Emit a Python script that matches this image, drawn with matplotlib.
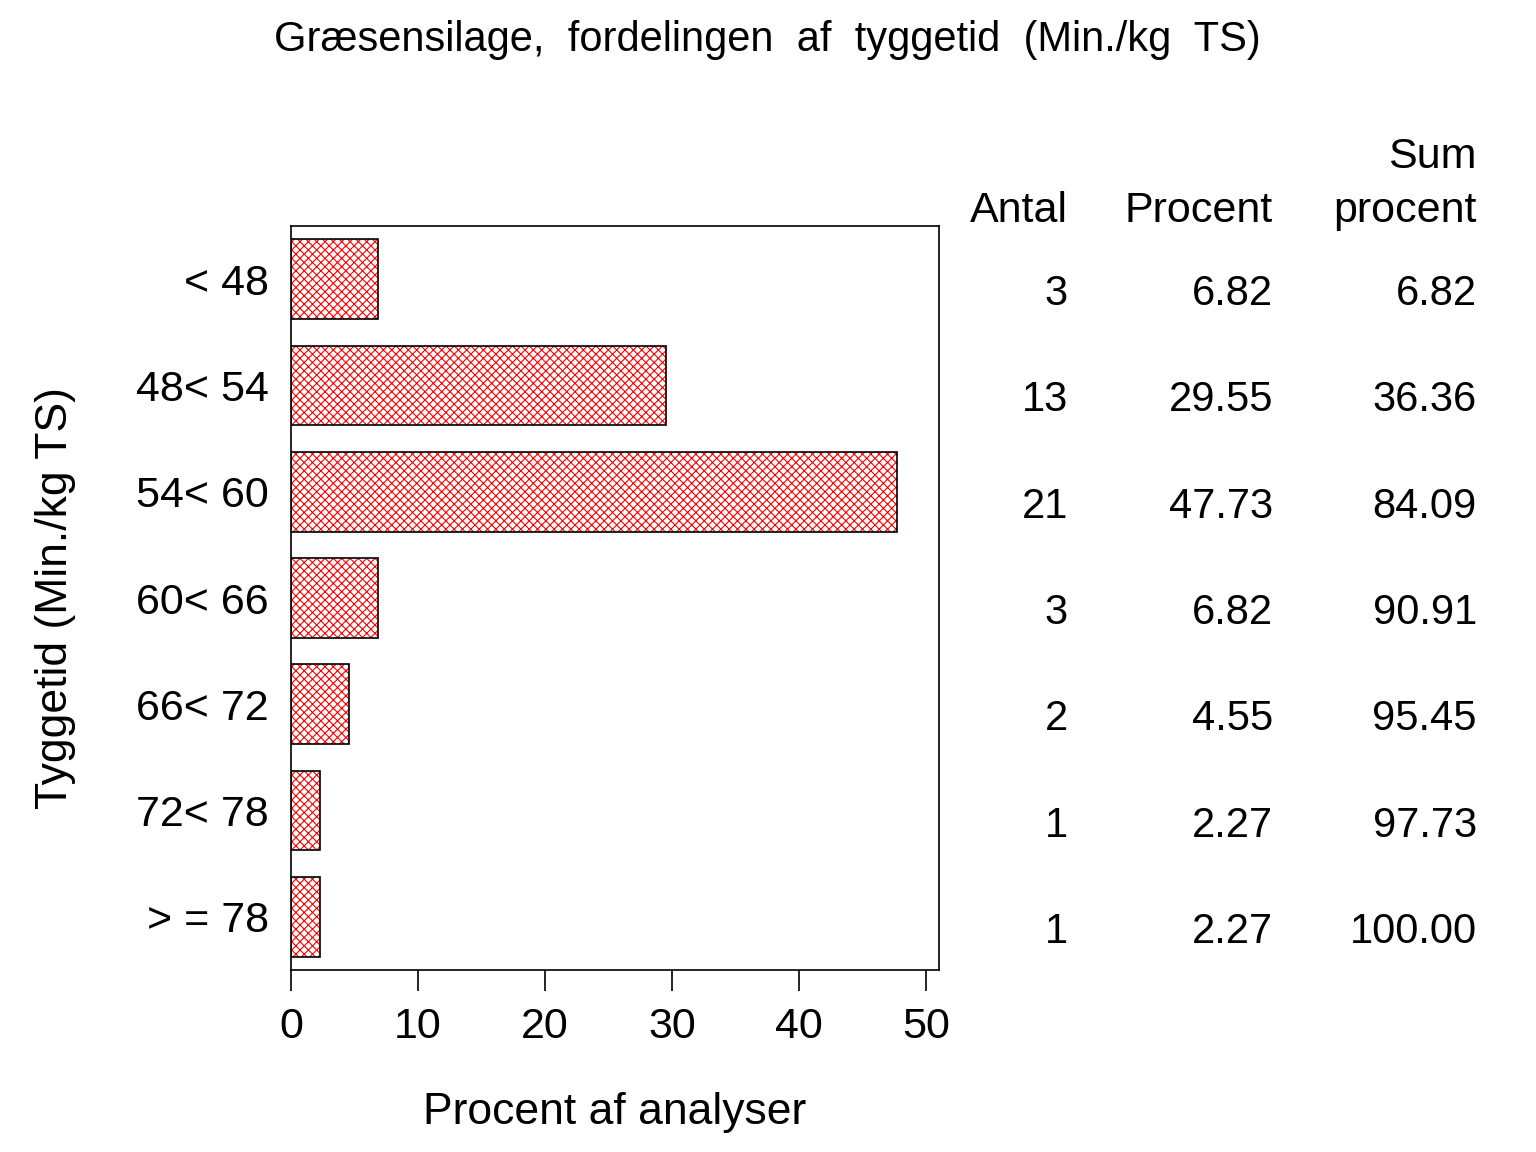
import matplotlib.pyplot as plt
from matplotlib import transforms

plt.rcParams["font.family"] = ["Liberation Sans", "DejaVu Sans"]
plt.rcParams["hatch.linewidth"] = 0.8

categories = ["< 48", "48< 54", "54< 60", "60< 66", "66< 72", "72< 78", "> = 78"]
antal = [3, 13, 21, 3, 2, 1, 1]
procent = [6.82, 29.55, 47.73, 6.82, 4.55, 2.27, 2.27]
sum_procent = [6.82, 36.36, 84.09, 90.91, 95.45, 97.73, 100.00]

fig = plt.figure(figsize=(15.36, 11.52), dpi=100)
ax = fig.add_axes([291 / 1536, 1 - 970 / 1152, (939 - 291) / 1536, (970 - 226) / 1152])

ypos = list(range(len(categories)))
# red cross hatch, black outline drawn on top
ax.barh(ypos, procent, height=0.75, color="white", edgecolor="red",
        hatch="xxxx", linewidth=0)
ax.barh(ypos, procent, height=0.75, color="none", edgecolor="black", linewidth=1.2)

ax.set_xlim(0, 51)
ax.set_ylim(6.5, -0.5)
ax.set_xticks([0, 10, 20, 30, 40, 50])
ax.set_yticks(ypos)
ax.set_yticklabels(categories)
ax.tick_params(axis="x", length=15, width=1.2, labelsize=31, pad=12)
ax.tick_params(axis="y", length=0, labelsize=31, pad=16)
for s in ax.spines.values():
    s.set_linewidth(1.2)

ax.set_xlabel("Procent af analyser", fontsize=32, labelpad=32)
ax.set_ylabel("Tyggetid (Min./kg TS)", fontsize=32, labelpad=43)

fig.text(767 / 1536, 1 - 40 / 1152, "Græsensilage,  fordelingen  af  tyggetid  (Min./kg  TS)",
         ha="center", va="center", fontsize=30)

# table to the right of the plot
hdr = dict(ha="right", va="center", fontsize=31)
fig.text(1068 / 1536, 1 - 211 / 1152, "Antal", **hdr)
fig.text(1273 / 1536, 1 - 211 / 1152, "Procent", **hdr)
fig.text(1477 / 1536, 1 - 157 / 1152, "Sum", **hdr)
fig.text(1477 / 1536, 1 - 211 / 1152, "procent", **hdr)

row_trans = transforms.blended_transform_factory(fig.transFigure, ax.transData) + \
    transforms.ScaledTranslation(0, -0.15, fig.dpi_scale_trans)
cols = [(1068, antal, "{:d}"), (1273, procent, "{:.2f}"), (1477, sum_procent, "{:.2f}")]
for x, vals, fmt in cols:
    for y, v in zip(ypos, vals):
        ax.text(x / 1536, y, fmt.format(v), transform=row_trans,
                ha="right", va="center", fontsize=30, clip_on=False)

fig.savefig("out.png", dpi=100)
